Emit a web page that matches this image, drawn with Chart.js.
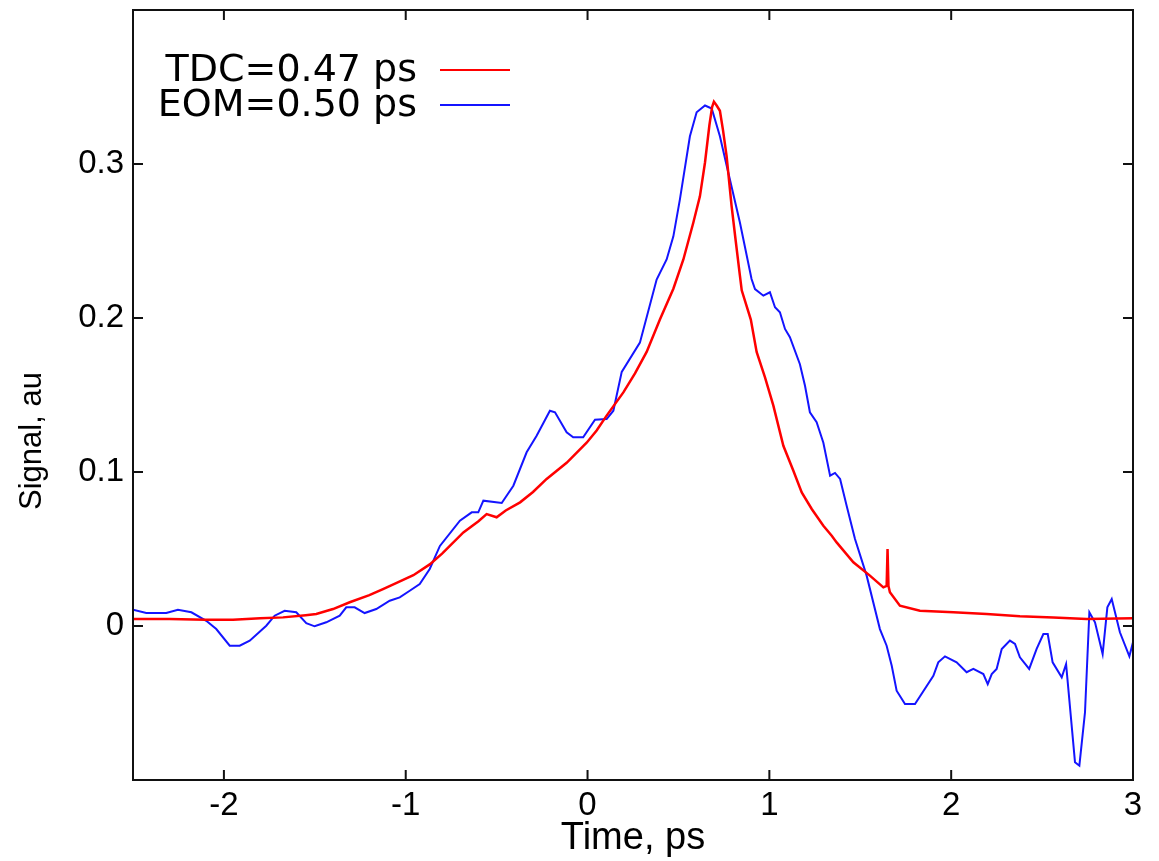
<!DOCTYPE html>
<html>
<head>
<meta charset="utf-8">
<script src="https://cdn.jsdelivr.net/npm/chart.js@4.4.1/dist/chart.umd.min.js"></script>
<style>
html, body { margin: 0; padding: 0; background: #fff; }
#wrap { width: 1159px; height: 861px; }
</style>
</head>
<body>
<div id="wrap"><canvas id="signalChart"></canvas></div>
<script>
// TDC trace (red)
const tdcTime = [-2.5, -2.3, -2.1, -1.95, -1.8, -1.675, -1.55, -1.492, -1.4, -1.308, -1.2, -1.125, -1.05, -0.958, -0.868, -0.8,
    -0.683, -0.6, -0.555, -0.5, -0.45, -0.371, -0.3, -0.225, -0.115, -0.005, 0.05, 0.105, 0.197, 0.261, 0.325, 0.398,
    0.472, 0.527, 0.582, 0.618, 0.646, 0.67, 0.685, 0.695, 0.71, 0.728, 0.745, 0.765, 0.792, 0.815, 0.838, 0.848,
    0.898, 0.93, 0.976, 1.022, 1.077, 1.132, 1.178, 1.233, 1.297, 1.343, 1.37, 1.462, 1.553, 1.627, 1.645, 1.65,
    1.655, 1.663, 1.718, 1.828, 2.012, 2.195, 2.378, 2.562, 2.745, 3.0];
const tdcSignal = [0.0045, 0.0045, 0.004, 0.004, 0.005, 0.0056, 0.007, 0.0078, 0.011, 0.0154, 0.02, 0.024, 0.028, 0.033, 0.04, 0.047,
    0.0608, 0.068, 0.0727, 0.0706, 0.075, 0.0803, 0.087, 0.0955, 0.106, 0.119, 0.127, 0.1366, 0.1517, 0.164, 0.178, 0.199,
    0.219, 0.238, 0.262, 0.279, 0.301, 0.325, 0.337, 0.3405, 0.338, 0.3346, 0.322, 0.305, 0.273, 0.25, 0.2275, 0.218,
    0.199, 0.178, 0.1615, 0.1431, 0.117, 0.1008, 0.0868, 0.076, 0.0651, 0.0586, 0.0543, 0.0414, 0.0327, 0.0251, 0.026, 0.05,
    0.026, 0.0219, 0.0132, 0.0099, 0.0089, 0.0078, 0.0063, 0.0056, 0.0045, 0.005];

// EOM trace (blue)
const eomTime = [-2.5, -2.427, -2.317, -2.253, -2.179, -2.097, -2.042, -1.968, -1.913, -1.858, -1.767, -1.721, -1.666, -1.602,
    -1.547, -1.501, -1.437, -1.363, -1.327, -1.281, -1.226, -1.162, -1.088, -1.033, -0.978, -0.923, -0.868, -0.812,
    -0.702, -0.637, -0.601, -0.573, -0.472, -0.408, -0.335, -0.28, -0.207, -0.179, -0.115, -0.079, -0.024, 0.041,
    0.105, 0.142, 0.188, 0.288, 0.38, 0.435, 0.472, 0.508, 0.563, 0.6, 0.646, 0.683, 0.728, 0.765, 0.838, 0.902,
    0.921, 0.967, 1.003, 1.031, 1.058, 1.086, 1.113, 1.168, 1.196, 1.223, 1.26, 1.297, 1.334, 1.361, 1.389, 1.425,
    1.471, 1.535, 1.608, 1.645, 1.673, 1.7, 1.746, 1.801, 1.902, 1.929, 1.966, 2.03, 2.085, 2.122, 2.177, 2.201,
    2.223, 2.25, 2.278, 2.323, 2.351, 2.378, 2.429, 2.47, 2.507, 2.531, 2.558, 2.608, 2.632, 2.681, 2.705, 2.736,
    2.76, 2.791, 2.833, 2.859, 2.883, 2.928, 2.98, 3.0];
const eomSignal = [0.0106, 0.0084, 0.0084, 0.0106, 0.0089, 0.0034, -0.002, -0.0128, -0.0128, -0.0095, 0.0002, 0.0067, 0.0099, 0.0089,
    0.0019, -0.0002, 0.0024, 0.0067, 0.0121, 0.0121, 0.0084, 0.011, 0.0164, 0.0186, 0.0229, 0.0273, 0.037, 0.052,
    0.0684, 0.0738, 0.0738, 0.0814, 0.0799, 0.0911, 0.1128, 0.1236, 0.1398, 0.1388, 0.1258, 0.1225, 0.1225, 0.134,
    0.1344, 0.1398, 0.165, 0.184, 0.225, 0.238, 0.253, 0.277, 0.318, 0.3336, 0.338, 0.336, 0.318, 0.299, 0.262, 0.2253,
    0.2188, 0.2145, 0.2167, 0.207, 0.2037, 0.1929, 0.1875, 0.17, 0.156, 0.1388, 0.1323, 0.119, 0.0976, 0.0994, 0.0955, 0.0781,
    0.0565, 0.0327, -0.002, -0.0128, -0.0258, -0.042, -0.0506, -0.0506, -0.0323, -0.0236, -0.0197, -0.0236, -0.03, -0.0279, -0.0312, -0.0377,
    -0.0312, -0.0279, -0.0149, -0.0095, -0.0117, -0.0203, -0.0279, -0.0149, -0.0052, -0.0052, -0.0236, -0.0333, -0.0247, -0.0885, -0.0907, -0.056,
    0.0089, 0.0024, -0.0182, 0.0121, 0.0175, -0.0041, -0.0197, -0.0106];

const seriesLabels = ['TDC=0.47 ps', 'EOM=0.50 ps'];
const xTicks = [-2, -1, 0, 1, 2, 3];
const yTicks = [0, 0.1, 0.2, 0.3];

function toPoints(xs, ys) {
    return xs.map((x, i) => ({ x: x, y: ys[i] }));
}

Chart.defaults.font.family = "'Liberation Sans', Arial, sans-serif";
Chart.defaults.color = '#000';

// frame, inward ticks on all four sides, y title and key
const framePlugin = {
    id: 'frame',
    afterDraw(chart) {
        const ctx = chart.ctx;
        const a = chart.chartArea;
        const xs = chart.scales.x, ys = chart.scales.y;
        ctx.save();
        ctx.strokeStyle = '#111';
        ctx.lineWidth = 2;
        ctx.strokeRect(a.left, a.top, a.right - a.left, a.bottom - a.top);
        ctx.beginPath();
        xTicks.forEach(v => {
            const px = xs.getPixelForValue(v);
            ctx.moveTo(px, a.bottom); ctx.lineTo(px, a.bottom - 10);
            ctx.moveTo(px, a.top); ctx.lineTo(px, a.top + 10);
        });
        yTicks.forEach(v => {
            const py = ys.getPixelForValue(v);
            ctx.moveTo(a.left, py); ctx.lineTo(a.left + 10, py);
            ctx.moveTo(a.right, py); ctx.lineTo(a.right - 10, py);
        });
        ctx.stroke();

        // y axis title
        ctx.fillStyle = '#000';
        ctx.font = "31px 'Liberation Sans', Arial, sans-serif";
        ctx.textAlign = 'center';
        ctx.textBaseline = 'middle';
        ctx.translate(32, 441);
        ctx.rotate(-Math.PI / 2);
        ctx.fillText('Signal, au', 0, 0);
        ctx.restore();

        // key
        ctx.save();
        ctx.font = "38px 'DejaVu Sans', sans-serif";
        ctx.textAlign = 'right';
        ctx.textBaseline = 'middle';
        ctx.fillStyle = '#000';
        chart.data.datasets.forEach((ds, i) => {
            const y = 70 + i * 35;
            ctx.fillText(ds.label, 417, y + 1);
            ctx.strokeStyle = ds.borderColor;
            ctx.lineWidth = 2;
            ctx.beginPath();
            ctx.moveTo(440, y); ctx.lineTo(510, y);
            ctx.stroke();
        });
        ctx.restore();
    }
};

const ctx = document.getElementById('signalChart').getContext('2d');
const signalChart = new Chart(ctx, {
    type: 'line',
    data: {
        datasets: [{
            label: seriesLabels[0],
            data: toPoints(tdcTime, tdcSignal),
            borderColor: 'rgb(255, 0, 0)',
            borderWidth: 2.5,
            pointRadius: 0,
            tension: 0
        }, {
            label: seriesLabels[1],
            data: toPoints(eomTime, eomSignal),
            borderColor: 'rgb(20, 20, 255)',
            borderWidth: 2,
            pointRadius: 0,
            tension: 0
        }]
    },
    options: {
        responsive: true,
        maintainAspectRatio: false,
        animation: false,
        layout: { padding: { top: 10, right: 26, left: 0, bottom: 0 } },
        scales: {
            x: {
                type: 'linear',
                min: -2.5,
                max: 3,
                afterBuildTicks: s => { s.ticks = xTicks.map(v => ({ value: v })); },
                afterFit: s => { s.height = 81; s.paddingLeft = 0; s.paddingRight = 0; },
                grid: { display: false, drawTicks: false },
                border: { display: false },
                ticks: { font: { size: 33 }, padding: 6, maxRotation: 0, callback: v => String(v) },
                title: { display: true, text: 'Time, ps', font: { size: 38 }, padding: { top: 0, bottom: 0 } }
            },
            y: {
                type: 'linear',
                min: -0.1,
                max: 0.4,
                afterBuildTicks: s => { s.ticks = yTicks.map(v => ({ value: v })); },
                afterFit: s => { s.width = 133; s.paddingTop = 0; s.paddingBottom = 0; },
                grid: { display: false, drawTicks: false },
                border: { display: false },
                ticks: { font: { size: 33 }, padding: 9, callback: v => String(v) }
            }
        },
        plugins: {
            legend: { display: false },
            tooltip: { enabled: false }
        }
    },
    plugins: [framePlugin]
});
</script>
</body>
</html>
